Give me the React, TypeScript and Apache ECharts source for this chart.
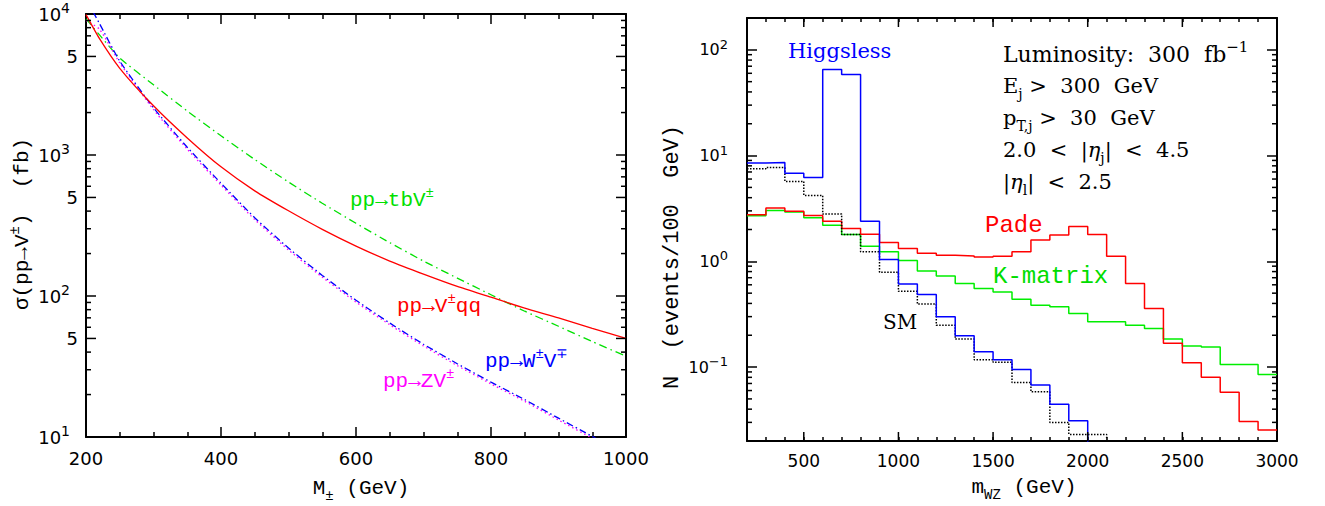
import React, { useEffect, useRef } from 'react';
import * as echarts from 'echarts';

// ---------- Left panel: cross sections vs. M± ----------
const massGeV = [200, 220, 250, 300, 350, 400, 450, 500, 550, 600, 650, 700, 750, 800, 850, 900, 950, 1000];
const sigmaVqq = [9890, 6680, 4120, 2234, 1321, 824, 557, 402, 297, 226, 177, 143, 117, 98, 82, 70, 59, 50];
const sigmaTbV = [9230, 7110, 4875, 3148, 2051, 1368, 929, 643, 455, 328, 239, 177, 134, 102, 78, 61, 47.5, 37.4];
const sigmaWV = [12760, 8550, 4634, 2163, 1135, 631, 359, 219, 140, 93.3, 64.3, 45.5, 33.1, 24.5, 18.4, 13.6, 10.1, 7.5];
const sigmaZV = [9000, 7800, 4500, 2100, 1100, 612, 348, 212, 136, 90.5, 62.5, 44.2, 32.1, 23.8, 17.9, 13.2, 9.8, 7.3];

const leftYMinorTicks = [20, 30, 40, 50, 60, 70, 80, 90, 200, 300, 400, 500, 600, 700, 800, 900, 2000, 3000, 4000, 5000, 6000, 7000, 8000, 9000];
const leftYFiveTicks = [50, 500, 5000];

// ---------- Right panel: events per 100 GeV vs. m_WZ ----------
const mwzEdges = [200, 300, 400, 500, 600, 700, 800, 900, 1000, 1100, 1200, 1300, 1400, 1500, 1600, 1700, 1800, 1900, 2000, 2100, 2200, 2300, 2400, 2500, 2600, 2700, 2800, 2900, 3000];
const higgsless = [8.5, 8.6, 6.8, 6.2, 65, 58.5, 2.4, 1.04, 0.61, 0.486, 0.30, 0.198, 0.140, 0.117, 0.095, 0.0676, 0.0445, 0.0311];
const smBackground = [7.5, 7.7, 5.7, 4.2, 2.8, 1.79, 1.23, 0.79, 0.52, 0.394, 0.249, 0.184, 0.117, 0.111, 0.0716, 0.0585, 0.030, 0.0231, 0.0231];
const pade = [2.75, 3.19, 2.97, 2.72, 2.39, 2.04, 1.80, 1.51, 1.32, 1.19, 1.14, 1.125, 1.10, 1.12, 1.23, 1.59, 1.77, 2.14, 1.79, 1.12, 0.617, 0.358, 0.168, 0.11, 0.080, 0.0577, 0.0305, 0.0254];
const kMatrix = [2.70, 3.03, 2.93, 2.59, 2.19, 1.79, 1.39, 1.23, 1.02, 0.81, 0.727, 0.616, 0.553, 0.514, 0.438, 0.385, 0.371, 0.321, 0.268, 0.268, 0.249, 0.232, 0.184, 0.158, 0.155, 0.106, 0.106, 0.085];
const belowRange = 0.005;

const rightYMinorTicks = [0.03, 0.04, 0.05, 0.06, 0.07, 0.08, 0.09, 0.2, 0.3, 0.4, 0.5, 0.6, 0.7, 0.8, 0.9, 2, 3, 4, 5, 6, 7, 8, 9, 20, 30, 40, 50, 60, 70, 80, 90];
const rightXMajorTicks = [500, 1000, 1500, 2000, 2500, 3000];

const MONO = 'Liberation Mono';
const SERIF = 'DejaVu Serif';
const SANS = 'DejaVu Sans';

const RED = '#ff0000';
const GREEN = '#00e000';
const BLUE = '#0000ff';
const MAGENTA = '#ff00ff';

const richSet = (family: string, size: number, color: string) => {
  const small = Math.round(size * 0.66);
  return {
    n: { fontFamily: family, fontSize: size, lineHeight: size + 8, fill: color },
    it: { fontFamily: family, fontSize: size, lineHeight: size + 8, fill: color, fontStyle: 'italic' },
    sup: { fontFamily: family, fontSize: small, lineHeight: small + 2, verticalAlign: 'top', fill: color },
    sub: { fontFamily: family, fontSize: small, lineHeight: small + 2, verticalAlign: 'bottom', fill: color },
  };
};

const label = (x: number, y: number, text: string, color: string, family: string, size: number, extra: any = {}) => ({
  type: 'text',
  x,
  y,
  silent: true,
  rotation: extra.rotation || 0,
  style: {
    text,
    rich: richSet(family, size, color),
    fill: color,
    fontFamily: family,
    fontSize: size,
    textAlign: extra.align || 'left',
    textVerticalAlign: 'middle',
  },
});

const powLabel = (v: number) => {
  const e = Math.round(Math.log10(v));
  if (Math.abs(v / Math.pow(10, e) - 1) > 1e-6) return '';
  return `{b|10}{s|${e < 0 ? '\u2212' + -e : e}}`;
};

const axisLineStyle = { lineStyle: { color: '#000', width: 2 } };

const curve = (vals: number[], color: string, type: any, width = 1.3) => ({
  type: 'line',
  xAxisIndex: 0,
  yAxisIndex: 0,
  data: massGeV.map((m, i) => [m, vals[i]]),
  symbol: 'none',
  smooth: 0.2,
  clip: true,
  lineStyle: { color, width, type },
  z: 3,
});

const hist = (vals: number[], color: string, type: any, tail?: number) => {
  const pts = vals.map((v, i) => [mwzEdges[i], v]);
  pts.push([mwzEdges[vals.length], tail === undefined ? vals[vals.length - 1] : tail]);
  return {
    type: 'line',
    xAxisIndex: 2,
    yAxisIndex: 2,
    step: 'end',
    data: pts,
    symbol: 'none',
    clip: true,
    lineStyle: { color, width: 1.5, type },
    z: 3,
  };
};

const yTickSeries = (axisIdx: number, data: number[][]) => ({
  type: 'custom',
  xAxisIndex: axisIdx,
  yAxisIndex: axisIdx,
  silent: true,
  clip: false,
  z: 6,
  data,
  renderItem: (params: any, api: any) => {
    const cs = params.coordSys;
    const y = api.coord([api.value(0), api.value(1)])[1];
    const len = api.value(2);
    const lbl = api.value(3);
    const st = { stroke: '#000', lineWidth: 1.5 };
    const children: any[] = [
      { type: 'line', shape: { x1: cs.x, y1: y, x2: cs.x + len, y2: y }, style: st },
      { type: 'line', shape: { x1: cs.x + cs.width, y1: y, x2: cs.x + cs.width - len, y2: y }, style: st },
    ];
    if (lbl) {
      children.push({
        type: 'text',
        x: cs.x - 8,
        y,
        style: { text: String(lbl), textAlign: 'right', textVerticalAlign: 'middle', fontSize: 18, fontFamily: SANS, fill: '#000' },
      });
    }
    return { type: 'group', children };
  },
});

const xMajorSeries = (axisIdx: number, data: number[][]) => ({
  type: 'custom',
  xAxisIndex: axisIdx,
  yAxisIndex: axisIdx,
  silent: true,
  clip: false,
  z: 6,
  data,
  renderItem: (params: any, api: any) => {
    const cs = params.coordSys;
    const x = api.coord([api.value(0), api.value(1)])[0];
    const len = 9;
    const st = { stroke: '#000', lineWidth: 1.5 };
    return {
      type: 'group',
      children: [
        { type: 'line', shape: { x1: x, y1: cs.y + cs.height, x2: x, y2: cs.y + cs.height - len }, style: st },
        { type: 'line', shape: { x1: x, y1: cs.y, x2: x, y2: cs.y + len }, style: st },
      ],
    };
  },
});

export default function App() {
  const ref = useRef<HTMLDivElement>(null);

  useEffect(() => {
    if (!ref.current) return;
    const chart = echarts.init(ref.current, undefined, { renderer: 'svg' });

    const tickStyle = { lineStyle: { color: '#000', width: 1.5 } };

    const option: any = {
      animation: false,
      backgroundColor: '#fff',
      grid: [
        { left: 86, top: 14, width: 540, height: 423 },
        { left: 747, top: 18, width: 530, height: 423 },
      ],
      xAxis: [
        {
          gridIndex: 0, type: 'value', position: 'bottom', min: 200, max: 1000, interval: 200,
          axisLine: axisLineStyle, splitLine: { show: false },
          axisTick: { inside: true, length: 10, ...tickStyle },
          minorTick: { show: true, splitNumber: 4, length: 5, ...tickStyle },
          axisLabel: { fontFamily: SANS, fontSize: 18, color: '#000', margin: 12, formatter: (v: number) => String(v) },
        },
        {
          gridIndex: 0, type: 'value', position: 'top', min: 200, max: 1000, interval: 200,
          axisLine: axisLineStyle, splitLine: { show: false },
          axisTick: { inside: true, length: 10, ...tickStyle },
          minorTick: { show: true, splitNumber: 4, length: 5, ...tickStyle },
          axisLabel: { show: false },
        },
        {
          gridIndex: 1, type: 'value', position: 'bottom', min: 200, max: 3000, interval: 100,
          axisLine: axisLineStyle, splitLine: { show: false },
          axisTick: { inside: true, length: 4, ...tickStyle },
          axisLabel: {
            fontFamily: SANS, fontSize: 17, color: '#000', margin: 11,
            formatter: (v: number) => (v % 500 === 0 ? String(v) : ''),
          },
        },
        {
          gridIndex: 1, type: 'value', position: 'top', min: 200, max: 3000, interval: 100,
          axisLine: axisLineStyle, splitLine: { show: false },
          axisTick: { inside: true, length: 4, ...tickStyle },
          axisLabel: { show: false },
        },
      ],
      yAxis: [
        {
          gridIndex: 0, type: 'log', logBase: 10, position: 'left', min: 10, max: 10000,
          axisLine: axisLineStyle, splitLine: { show: false },
          axisTick: { inside: true, length: 10, ...tickStyle },
          axisLabel: {
            margin: 16, color: '#000', formatter: powLabel,
            rich: {
              b: { fontFamily: SANS, fontSize: 18, lineHeight: 26, color: '#000' },
              s: { fontFamily: SANS, fontSize: 14, lineHeight: 14, verticalAlign: 'top', color: '#000' },
            },
          },
        },
        {
          gridIndex: 0, type: 'log', logBase: 10, position: 'right', min: 10, max: 10000,
          axisLine: axisLineStyle, splitLine: { show: false },
          axisTick: { inside: true, length: 10, ...tickStyle },
          axisLabel: { show: false },
        },
        {
          gridIndex: 1, type: 'log', logBase: 10, position: 'left', min: 0.02, max: 200,
          axisLine: axisLineStyle, splitLine: { show: false },
          axisTick: { inside: true, length: 10, ...tickStyle },
          axisLabel: {
            margin: 19, color: '#000', formatter: powLabel,
            rich: {
              b: { fontFamily: SANS, fontSize: 16, lineHeight: 24, color: '#000' },
              s: { fontFamily: SANS, fontSize: 13, lineHeight: 13, verticalAlign: 'top', color: '#000' },
            },
          },
        },
        {
          gridIndex: 1, type: 'log', logBase: 10, position: 'right', min: 0.02, max: 200,
          axisLine: axisLineStyle, splitLine: { show: false },
          axisTick: { inside: true, length: 10, ...tickStyle },
          axisLabel: { show: false },
        },
      ],
      series: [
        curve(sigmaTbV, GREEN, [8, 4, 1.5, 4]),
        curve(sigmaZV, MAGENTA, [1.5, 3]),
        curve(sigmaWV, BLUE, [7, 3, 1.5, 3]),
        curve(sigmaVqq, RED, 'solid'),
        yTickSeries(0, leftYMinorTicks.map((v) => [massGeV[0], v, leftYFiveTicks.includes(v) ? 10 : 5, leftYFiveTicks.includes(v) ? 5 : 0])),
        hist(kMatrix, '#00ee00', 'solid'),
        hist(pade, RED, 'solid'),
        hist(smBackground, '#000', 'dotted', belowRange),
        hist(higgsless, BLUE, 'solid', belowRange),
        yTickSeries(2, rightYMinorTicks.map((v) => [mwzEdges[0], v, 5, 0])),
        xMajorSeries(2, rightXMajorTicks.map((v) => [v, 1])),
      ],
      graphic: [
        // left panel annotations
        label(350, 200, '{n|pp\u2192tbV}{sup|\u00b1}', GREEN, MONO, 21),
        label(397, 306, '{n|pp\u2192V}{sup|\u00b1}{n|qq}', RED, MONO, 21),
        label(485, 361, '{n|pp\u2192W}{sup|\u00b1}{n|V}{sup|\u2213}', BLUE, MONO, 21),
        label(383, 381, '{n|pp\u2192ZV}{sup|\u00b1}', MAGENTA, MONO, 21),
        // left axis titles
        label(361, 488, '{n|M}{sub|\u00b1}{n| (GeV)}', '#000', MONO, 21, { align: 'center' }),
        label(22, 224, '{n|\u03c3(pp\u2192V}{sup|\u00b1}{n|)  (fb)}', '#000', MONO, 21, { align: 'center', rotation: Math.PI / 2 }),
        // right panel annotations
        label(788, 51, '{n|Higgsless}', BLUE, SERIF, 21),
        label(1003, 54, '{n|Luminosity:  300  fb}{sup|\u22121}', '#000', SERIF, 22),
        label(1003, 86, '{n|E}{sub|j}{n| >  300  GeV}', '#000', SERIF, 21),
        label(1003, 118, '{n|p}{sub|T,j}{n| >  30  GeV}', '#000', SERIF, 21),
        label(1003, 150, '{n|2.0  <  |}{it|\u03b7}{sub|j}{n||  <  4.5}', '#000', SERIF, 21),
        label(1003, 182, '{n||}{it|\u03b7}{sub|l}{n||  <  2.5}', '#000', SERIF, 21),
        label(985, 225, '{n|Pade}', RED, MONO, 24),
        label(993, 276, '{n|K-matrix}', '#00dd00', MONO, 24),
        label(883, 322, '{n|SM}', '#000', SERIF, 20),
        // right axis titles
        label(1024, 487, '{n|m}{sub|WZ}{n| (GeV)}', '#000', MONO, 21, { align: 'center' }),
        label(672, 257, '{n|N  (events/100  GeV)}', '#000', MONO, 22, { align: 'center', rotation: Math.PI / 2 }),
      ],
    };

    chart.setOption(option);
    return () => chart.dispose();
  }, []);

  return <div ref={ref} style={{ position: 'absolute', left: 0, top: 0, width: 1325, height: 506 }} />;
}
